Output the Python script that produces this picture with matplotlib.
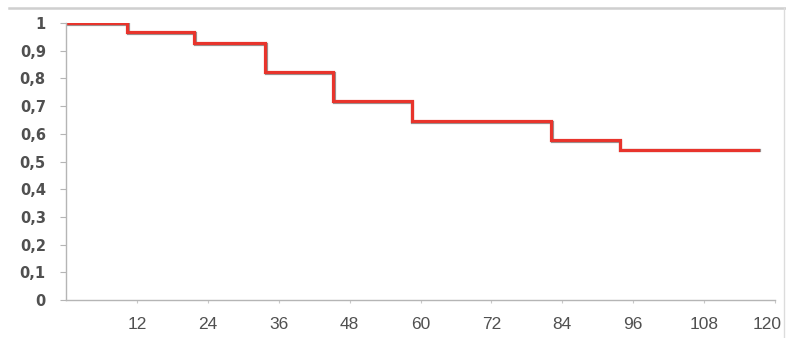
import matplotlib
matplotlib.use("Agg")
import matplotlib.pyplot as plt
import matplotlib.patheffects as pe
from matplotlib.lines import Line2D
from matplotlib.transforms import ScaledTranslation

# Step curve (months, survival proportion)
months = [0, 10.3, 21.7, 33.7, 45.2, 58.5, 82.1, 93.7, 117.2]
survival = [1.0, 0.966, 0.929, 0.824, 0.718, 0.647, 0.578, 0.543, 0.543]

x_ticks = [12, 24, 36, 48, 60, 72, 84, 96, 108, 120]
y_ticks = [0, 0.1, 0.2, 0.3, 0.4, 0.5, 0.6, 0.7, 0.8, 0.9, 1]
y_labels = ["0", "0,1", "0,2", "0,3", "0,4", "0,5", "0,6", "0,7", "0,8", "0,9", "1"]

W, H = 786, 338
fig = plt.figure(figsize=(W / 100, H / 100), dpi=100)
ax = fig.add_axes([66 / W, 38 / H, (775 - 66) / W, 277 / H])

ax.step(months, survival, where="post", color="#e8342c", lw=2.3,
        solid_joinstyle="miter",
        path_effects=[pe.SimpleLineShadow(offset=(0.6, -0.6), shadow_color="#404040", alpha=0.55),
                      pe.Normal()])

ax.set_xlim(0, 120)
ax.set_ylim(0, 1)
ax.set_xticks(x_ticks)
ax.set_xticklabels([str(t) for t in x_ticks], family="Liberation Sans", fontsize=12.5, color="#505050")
ax.set_yticks(y_ticks)
ax.set_yticklabels(y_labels, family="DejaVu Sans", fontsize=10.5, color="#505050", fontweight="bold")

for s in ["top", "right"]:
    ax.spines[s].set_visible(False)
for s in ["left", "bottom"]:
    ax.spines[s].set_color("#b5b5b5")
    ax.spines[s].set_linewidth(1.0)
ax.tick_params(axis="y", length=4.5, width=0.8, color="#b5b5b5", pad=10)
ax.tick_params(axis="x", length=2.5, width=0.8, color="#c8c8c8", pad=10)

# Shift the last x label left so it stays inside the chart frame
last = ax.get_xticklabels()[-1]
last.set_transform(last.get_transform() + ScaledTranslation(-8 / 100, 0, fig.dpi_scale_trans))

# Outer chart frame (top and right edges visible)
fig.add_artist(Line2D([9 / W, 1], [1 - 8 / H, 1 - 8 / H], transform=fig.transFigure, color="#cfcfcf", lw=1.8))
fig.add_artist(Line2D([784 / W, 784 / W], [0, 1 - 8 / H], transform=fig.transFigure, color="#dcdcdc", lw=1.0))

fig.savefig("out.png", dpi=100)
